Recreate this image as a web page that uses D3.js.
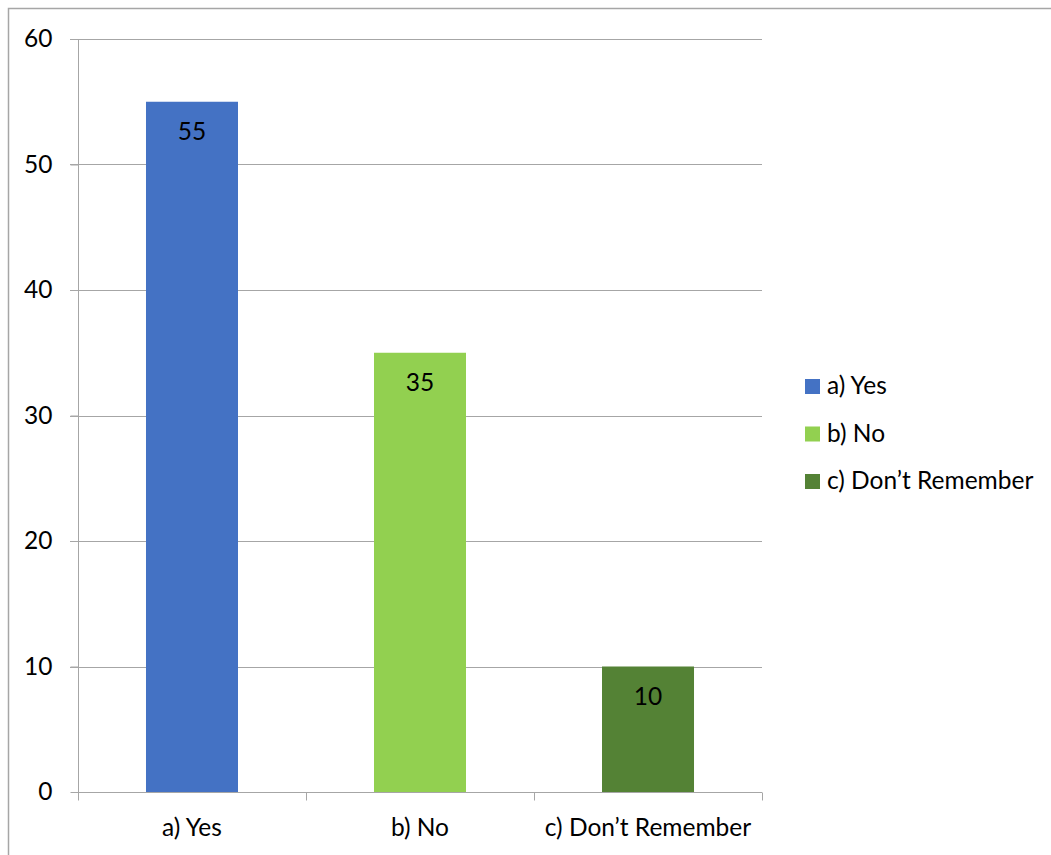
<!DOCTYPE html>
<html>
<head>
<meta charset="utf-8">
<script src="https://cdn.jsdelivr.net/npm/d3@7"></script>
<style>
  html, body { margin: 0; padding: 0; background: #fff; }
  svg { display: block; }
  text { font-family: Lato, "Open Sans", sans-serif; fill: #000; }
</style>
</head>
<body>
<svg id="chart" width="1051" height="855"></svg>
<script>
// Survey answers and counts
const categories = ["a) Yes", "b) No", "c) Don\u2019t Remember"];
const values = [55, 35, 10];
const colors = ["#4472C4", "#92D050", "#548235"];
const yTicks = [0, 10, 20, 30, 40, 50, 60];

const svg = d3.select("#chart");
const W = 1051, H = 855;
const FS = 24.5;

// Outer chart frame
svg.append("rect")
  .attr("x", 8.5).attr("y", 8.5)
  .attr("width", W + 10).attr("height", H + 10)
  .attr("fill", "none").attr("stroke", "#A6A6A6").attr("stroke-width", 1.5);

const plot = { left: 78, right: 762, top: 39, bottom: 792 };

const x = d3.scaleBand()
  .domain(categories)
  .range([plot.left, plot.right])
  .paddingInner(0.5965)
  .paddingOuter(0.2982);

const band = d3.scaleBand().domain(categories).range([plot.left, plot.right]);

const y = d3.scaleLinear().domain([0, 60]).range([plot.bottom, plot.top]);

// Horizontal gridlines
svg.append("g")
  .selectAll("line")
  .data(yTicks.filter(d => d > 0))
  .join("line")
  .attr("x1", plot.left - 8).attr("x2", plot.right)
  .attr("y1", d => Math.round(y(d)) + 0.5).attr("y2", d => Math.round(y(d)) + 0.5)
  .attr("stroke", "#A6A6A6").attr("stroke-width", 1);

// Y axis
const yAxis = svg.append("g")
  .attr("transform", `translate(${plot.left + 0.5},0)`)
  .call(d3.axisLeft(y).tickValues(yTicks).tickSize(8).tickPadding(18).tickFormat(d3.format("d")));
yAxis.select(".domain").attr("stroke", "#A6A6A6").attr("d", `M-8,${plot.top + 0.5}H0V${plot.bottom + 0.5}`);
yAxis.selectAll(".tick line").attr("stroke", "#A6A6A6");
yAxis.selectAll(".tick text").attr("font-size", FS).attr("font-family", "Lato, sans-serif").attr("fill", "#000");

// Bars
svg.append("g")
  .selectAll("rect")
  .data(categories)
  .join("rect")
  .attr("x", d => x(d))
  .attr("width", x.bandwidth())
  .attr("y", (d, i) => y(values[i]))
  .attr("height", (d, i) => y(0) - y(values[i]))
  .attr("fill", (d, i) => colors[i]);

// X axis with boundary ticks between categories
const xg = svg.append("g").attr("transform", `translate(0,${Math.round(plot.bottom) + 0.5})`);
xg.append("line")
  .attr("x1", plot.left).attr("x2", plot.right)
  .attr("stroke", "#A6A6A6");
const boundaries = categories.map(c => band(c)).concat([plot.right]);
xg.selectAll("line.b")
  .data(boundaries)
  .join("line")
  .attr("class", "b")
  .attr("x1", d => Math.round(d) + 0.5).attr("x2", d => Math.round(d) + 0.5)
  .attr("y1", 0).attr("y2", 8)
  .attr("stroke", "#A6A6A6");
xg.selectAll("text")
  .data(categories)
  .join("text")
  .attr("x", d => band(d) + band.bandwidth() / 2)
  .attr("y", 43)
  .attr("text-anchor", "middle")
  .attr("font-size", FS)
  .text(d => d);

// Value labels inside the bar tops
svg.append("g")
  .selectAll("text")
  .data(categories)
  .join("text")
  .attr("x", d => x(d) + x.bandwidth() / 2)
  .attr("y", (d, i) => y(values[i]) + 38)
  .attr("text-anchor", "middle")
  .attr("font-size", FS)
  .text((d, i) => values[i]);

// Legend
const legend = svg.append("g").attr("transform", "translate(805,379)");
const items = legend.selectAll("g")
  .data(categories)
  .join("g")
  .attr("transform", (d, i) => `translate(0,${i * 47.5})`);
items.append("rect")
  .attr("width", 15).attr("height", 15)
  .attr("fill", (d, i) => colors[i]);
items.append("text")
  .attr("x", 22).attr("y", 15)
  .attr("font-size", FS)
  .text(d => d);
</script>
</body>
</html>
